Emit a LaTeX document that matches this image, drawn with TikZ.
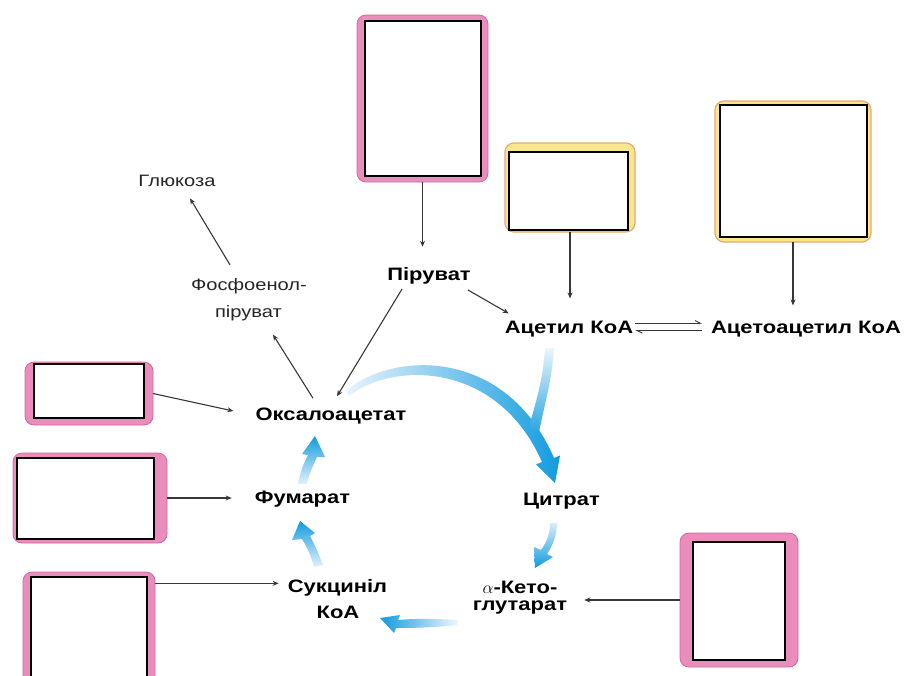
\documentclass[tikz,border=0pt]{standalone}
\usepackage{fontspec}
\setmainfont{Liberation Sans}[FakeStretch=1.22]
\usetikzlibrary{arrows.meta}
\definecolor{pinkfill}{RGB}{234,140,188}
\definecolor{pinkedge}{RGB}{205,105,160}
\definecolor{yelfill}{RGB}{252,230,140}
\definecolor{yeledge}{RGB}{228,170,115}
\definecolor{cycdark}{RGB}{18,155,222}
\definecolor{cyclight}{RGB}{215,236,250}
\definecolor{conncol}{RGB}{55,55,55}
\tikzset{
  pinkframe/.style={draw=pinkedge, fill=pinkfill, rounded corners=9pt, line width=0.8pt, inner sep=0pt, outer sep=0pt},
  yelframe/.style={draw=yeledge, fill=yelfill, rounded corners=9pt, line width=1.2pt, inner sep=0pt, outer sep=0pt},
  blank/.style={draw=black, fill=white, line width=1.6pt, inner sep=0pt, outer sep=0pt},
  lbl/.style={font=\fontsize{18}{20}\selectfont\bfseries, inner sep=1pt, anchor=base},
  lblr/.style={font=\fontsize{16.5}{19}\selectfont, inner sep=1pt, anchor=base, text=black!85},
  conn/.style={draw=conncol, line width=1.1pt, -{Stealth[length=6pt,width=5pt]}},
  harpr/.style={draw=conncol, line width=0.9pt, -{Straight Barb[left,length=5pt,width=5pt]}},
}
\begin{document}
\begin{tikzpicture}[x=1pt,y=-1pt]
\useasboundingbox (0,0) rectangle (905,675);
\clip (0,0) rectangle (905,675);

% ---- boxes ----
\node[pinkframe, minimum width=131pt, minimum height=167pt] (Po) at (422.5,98.5) {};
\node[blank, minimum width=116pt, minimum height=155pt] (P) at (423,98.5) {};
\node[yelframe, minimum width=130pt, minimum height=89pt] (Ao) at (570,187.5) {};
\node[blank, minimum width=119pt, minimum height=78pt] (A) at (568.5,191) {};
\node[yelframe, minimum width=156pt, minimum height=141pt] (Bo) at (793,171.5) {};
\node[blank, minimum width=147pt, minimum height=132pt] (B) at (793.5,171) {};
\node[pinkframe, minimum width=128pt, minimum height=63pt] (L1o) at (89,393.5) {};
\node[blank, minimum width=110pt, minimum height=54pt] (L1) at (89,391) {};
\node[pinkframe, minimum width=154pt, minimum height=90pt] (L2o) at (90,498) {};
\node[blank, minimum width=137pt, minimum height=81pt] (L2) at (85.5,498.5) {};
\node[pinkframe, minimum width=132pt, minimum height=118pt] (L3o) at (89,631) {};
\node[blank, minimum width=116pt, minimum height=113pt] (L3) at (89,633.5) {};
\node[pinkframe, minimum width=118pt, minimum height=134pt] (Ro) at (739,600) {};
\node[blank, minimum width=92pt, minimum height=118pt] (R) at (739,601) {};

% ---- labels ----
\node[lbl] (pyr) at (429,280) {Піруват};
\node[lbl] (acoa) at (569,333) {Ацетил КоА};
\node[lbl] (aacoa) at (806,333) {Ацетоацетил КоА};
\node[lbl] (oaa) at (331,420) {Оксалоацетат};
\node[lbl] (fum) at (302.5,503) {Фумарат};
\node[lbl] (succ1) at (337.5,592) {Сукциніл};
\node[lbl] (succ2) at (338,618) {КоА};
\node[lbl] (cit) at (561.5,505) {Цитрат};
\node[lbl, anchor=center, align=center, font=\fontsize{18}{16.5}\selectfont\bfseries] (akg) at (520,597.5) {$\alpha$-Кето-\\глутарат};
\node[lblr] (glu) at (177,186) {Глюкоза};
\node[lblr] (pep1) at (249,290) {Фосфоенол-};
\node[lblr] (pep2) at (248.5,317) {піруват};

% ---- cycle arrows (shaded) ----
\shade[left color=cyclight!60!white, right color=cycdark]
  (346,391) .. controls (390,352) and (505,345) .. (554,458)
  -- (560,455.5) -- (555,483) -- (536,464.5) -- (542,462)
  .. controls (497,360) and (392,362) .. (349,396) -- cycle;
\shade[top color=cyclight!50!white, bottom color=cycdark!90]
  (545,348) .. controls (543,380) and (536,402) .. (528,430)
  -- (539,432) .. controls (545,402) and (552,380) .. (554,348) -- cycle;
\shade[top color=cyclight, bottom color=cycdark]
  (550,523) .. controls (550,535) and (546,543) .. (541,550)
  -- (534,547) -- (535,568) -- (553,557) -- (547,554)
  .. controls (553,545) and (557,535) .. (557,523) -- cycle;
\shade[left color=cycdark, right color=cyclight!40!white]
  (458,620) .. controls (440,619) and (420,618) .. (398,620)
  -- (400,615) -- (380,618) -- (394,633) -- (396,628)
  .. controls (420,628) and (440,627) .. (458,625) -- cycle;
\shade[top color=cycdark, bottom color=cyclight!70!white]
  (314,567) .. controls (311,556) and (307,547) .. (302,539)
  -- (292,540) -- (300,521) -- (315,533) -- (310,536)
  .. controls (315,545) and (319,555) .. (323,565) -- cycle;
\shade[top color=cycdark, bottom color=cyclight!70!white]
  (298,484) .. controls (300,472) and (304,463) .. (308,455)
  -- (302,454) -- (315,436) -- (325,457) -- (317,457)
  .. controls (313,466) and (309,474) .. (307,484) -- cycle;

% ---- connectors ----
\draw[conn, shorten >=19pt] (Po.south) -- (Po.south |- pyr.north);
\draw[conn] ([shift={(-4,5)}]pyr.south east) -- ([shift={(5,-6)}]acoa.north west);
\draw[conn, shorten >=21pt] (Ao.south) -- (Ao.south |- acoa.north);
\draw[conn, shorten >=14pt] (Bo.south) -- (Bo.south |- aacoa.north);
\draw[harpr] ([shift={(1,-5.5)}]acoa.east) -- ([shift={(-8,-5.5)}]aacoa.west);
\draw[harpr] ([shift={(-8,2)}]aacoa.west) -- ([shift={(1,2)}]acoa.east);
\draw[conn] ([shift={(16,4)}]pyr.south west) -- ([shift={(6,-10)}]oaa.north);
\draw[conn] ([shift={(-18,-8)}]oaa.north) -- ([shift={(24.5,13)}]pep2.south);
\draw[conn] ([shift={(-19,-12)}]pep1.north) -- ([shift={(13,11)}]glu.south);
\draw[conn] (L1o.east) -- ([shift={(-21,-4.5)}]oaa.west);
\draw[conn, shorten >=22pt] (L2o.east) -- (L2o.east -| fum.west);
\draw[conn] ([shift={(0,-4)}]L3o.east |- succ1.west) -- ([shift={(-8,-4)}]succ1.west);
\draw[conn, shorten >=16pt] (Ro.west) -- (Ro.west -| akg.east);
\end{tikzpicture}
\end{document}
